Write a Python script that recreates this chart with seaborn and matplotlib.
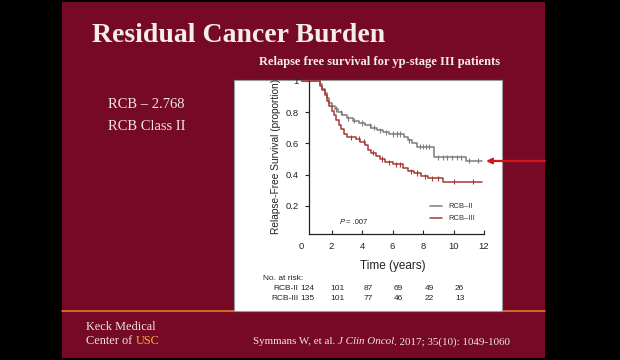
import numpy as np
import pandas as pd
import matplotlib
matplotlib.use("Agg")
import matplotlib.pyplot as plt
import seaborn as sns
from matplotlib.patches import Rectangle
from matplotlib.lines import Line2D
import matplotlib.transforms as mtransforms

sns.set_theme(style="white")

# Kaplan-Meier steps
rcb2_time = [0, 1.25, 1.4, 1.55, 1.7, 1.85, 2.0, 2.2, 2.45, 2.7, 3.0, 3.4, 3.8, 4.2,
             4.6, 5.0, 5.4, 5.8, 6.75, 7.0, 7.3, 7.6, 8.7, 10.85, 11.9]
rcb2_surv = [1.0, 0.98, 0.95, 0.92, 0.89, 0.86, 0.84, 0.82, 0.80, 0.78, 0.76, 0.745,
             0.73, 0.715, 0.70, 0.685, 0.67, 0.66, 0.64, 0.62, 0.60, 0.58, 0.51, 0.49, 0.49]
rcb3_time = [0, 1.25, 1.4, 1.55, 1.7, 1.85, 2.0, 2.15, 2.3, 2.5, 2.65, 2.8, 3.0, 3.6,
             3.9, 4.2, 4.4, 4.6, 4.9, 5.2, 5.5, 6.0, 6.7, 7.0, 7.4, 7.9, 8.3, 9.3, 11.9]
rcb3_surv = [1.0, 0.97, 0.94, 0.91, 0.87, 0.84, 0.81, 0.78, 0.75, 0.72, 0.69, 0.66,
             0.64, 0.63, 0.61, 0.59, 0.56, 0.54, 0.52, 0.50, 0.48, 0.465, 0.44, 0.42,
             0.41, 0.39, 0.375, 0.355, 0.355]
rcb2_censor = [2.3, 2.6, 3.1, 3.5, 4.0, 4.5, 4.8, 5.2, 5.6, 6.0, 6.3, 6.5, 7.1, 7.8,
               8.0, 8.2, 8.4, 9.0, 9.3, 9.6, 9.9, 10.2, 10.5, 11.0, 11.6]
rcb3_censor = [3.3, 3.8, 4.1, 4.7, 5.3, 5.8, 6.2, 6.5, 7.2, 7.6, 8.1, 8.6, 9.0,
               10.0, 11.3]

groups = ["RCB\u2013II", "RCB\u2013III"]
colors = ["#7d7d7d", "#a63a33"]

risk_times = [0, 2, 4, 6, 8, 10]
risk_rcb2 = [124, 101, 87, 69, 49, 26]
risk_rcb3 = [135, 101, 77, 46, 22, 13]


def step_at(times, surv, t):
    i = np.searchsorted(times, t, side="right") - 1
    return surv[i]


curves = pd.concat([
    pd.DataFrame({"time": rcb2_time, "surv": rcb2_surv, "group": groups[0]}),
    pd.DataFrame({"time": rcb3_time, "surv": rcb3_surv, "group": groups[1]}),
])
marks = pd.concat([
    pd.DataFrame({"time": rcb2_censor,
                  "surv": [step_at(rcb2_time, rcb2_surv, t) for t in rcb2_censor],
                  "group": groups[0]}),
    pd.DataFrame({"time": rcb3_censor,
                  "surv": [step_at(rcb3_time, rcb3_surv, t) for t in rcb3_censor],
                  "group": groups[1]}),
])

W, H = 620, 360
fig = plt.figure(figsize=(6.2, 3.6), dpi=100)
fig.patch.set_facecolor("black")


def box(x0, y0, x1, y1):
    return (x0 / W, 1 - y1 / H, (x1 - x0) / W, (y1 - y0) / H)


def fx(x):
    return x / W


def fy(y):
    return 1 - y / H


maroon = "#760a26"
l, b, w, h = box(62, 2, 545, 358)
fig.patches.append(Rectangle((l, b), w, h, transform=fig.transFigure,
                             facecolor=maroon, edgecolor="none", zorder=0))
# orange rule at the bottom
fig.lines.append(Line2D([fx(62), fx(545)], [fy(311), fy(311)], transform=fig.transFigure,
                        color="#e07a2a", lw=1.2, zorder=1))
# white inset panel
l, b, w, h = box(234, 80, 502, 311)
fig.patches.append(Rectangle((l, b), w, h, transform=fig.transFigure,
                             facecolor="white", edgecolor="#999999", lw=0.8, zorder=2))

serif = ["Liberation Serif", "DejaVu Serif"]
light = "#f0e4e4"
fig.text(fx(92), fy(36), "Residual Cancer Burden", color="#f4ede8", fontsize=20,
         fontweight="bold", family=serif, va="center", ha="left")
fig.text(fx(500), fy(62), "Relapse free survival for yp-stage III patients",
         color="#f4ede8", fontsize=9, fontweight="bold", family=serif,
         va="center", ha="right")
fig.text(fx(108), fy(104), "RCB \u2013 2.768", color=light, fontsize=10.5,
         family=serif, va="center")
fig.text(fx(108), fy(126), "RCB Class II", color=light, fontsize=10.5,
         family=serif, va="center")
fig.text(fx(86), fy(327), "Keck Medical", color=light, fontsize=8.8,
         family=serif, va="center")
c1 = fig.text(fx(86), fy(341), "Center of ", color=light, fontsize=8.8,
              family=serif, va="center")
fig.canvas.draw()
r = fig.canvas.get_renderer()
fig.text(c1.get_window_extent(r).x1 / W, fy(341), "USC", color="#f5b335",
         fontsize=8.8, family=serif, va="center")
cite = fig.text(fx(253), fy(342), "Symmans W, et al. ", color=light,
                fontsize=7.9, family=serif, va="center")
bb = cite.get_window_extent(r)
t2 = fig.text(bb.x1 / W, fy(342), "J Clin Oncol", color=light, fontsize=7.9,
              family=serif, style="italic", va="center")
bb = t2.get_window_extent(r)
fig.text(bb.x1 / W, fy(342), ". 2017; 35(10): 1049-1060", color=light,
         fontsize=7.9, family=serif, va="center")

# chart axes: x 0 at px 301, 15.25 px per year; y 0 at px 237, 156 px per unit
ax = fig.add_axes(box(301, 79.4, 301 + 12.1 * 15.25, 233.9), zorder=3)
ax.set_facecolor("none")
sns.lineplot(data=curves, x="time", y="surv", hue="group", palette=colors,
             estimator=None, sort=False, drawstyle="steps-post", lw=1.1, ax=ax)
sns.scatterplot(data=marks, x="time", y="surv", hue="group", palette=colors,
                marker="|", s=14, linewidth=0.8, legend=False, ax=ax)
ax.set_xlim(0, 12.1)
ax.set_ylim(0.02, 1.01)
for s in ["top", "right"]:
    ax.spines[s].set_visible(False)
ax.spines["left"].set_position(("data", 0.5))
ax.spines["left"].set_bounds(0.02, 1.0)
ax.spines["bottom"].set_bounds(0.5, 12)
for s in ["left", "bottom"]:
    ax.spines[s].set_color("#222222")
    ax.spines[s].set_linewidth(0.9)
ax.set_xticks(risk_times + [12])
ax.set_yticks([0.2, 0.4, 0.6, 0.8, 1.0])
ax.set_yticklabels(["0.2", "0.4", "0.6", "0.8", "1"])
ax.tick_params(axis="x", direction="in", length=3, width=0.8, labelsize=6.8,
               colors="#222222", pad=6, bottom=True)
ax.tick_params(axis="y", direction="out", length=3, width=0.8, labelsize=6.8,
               colors="#222222", pad=4, left=True)
ax.xaxis.get_major_ticks()[0].tick1line.set_visible(False)
sans = ["Liberation Sans", "DejaVu Sans"]
for lab in ax.get_xticklabels() + ax.get_yticklabels():
    lab.set_family(sans)
ax.set_xlabel("Time (years)", fontsize=8.5, family=sans, color="#222222", labelpad=6)
ax.set_ylabel("Relapse-Free Survival (proportion)", fontsize=7.3, family=sans,
              color="#222222", labelpad=3)
ax.text(2.55, 0.095, "P", fontsize=5.5, style="italic", family=sans, color="#222222",
        va="center")
ax.text(2.95, 0.095, "= .007", fontsize=5.5, family=sans, color="#222222", va="center")
leg = ax.legend(loc="lower right", bbox_to_anchor=(0.98, 0.03), frameon=False,
                fontsize=5.5, handlelength=1.6, labelspacing=0.6, title=None)
for t in leg.get_texts():
    t.set_family(sans)
    t.set_color("#333333")

# number at risk table
trans = mtransforms.blended_transform_factory(ax.transData, fig.transFigure)
fs = 6
fig.text(fx(263), fy(278), "No. at risk:", fontsize=fs, family=sans, color="#222222",
         va="center")
fig.text(fx(298), fy(289), "RCB-II", fontsize=fs, family=sans, color="#222222",
         va="center", ha="right")
fig.text(fx(298), fy(298), "RCB-III", fontsize=fs, family=sans, color="#222222",
         va="center", ha="right")
for t, n2, n3 in zip(risk_times, risk_rcb2, risk_rcb3):
    fig.text(t + 0.4, fy(289), str(n2), transform=trans, fontsize=fs, family=sans,
             color="#222222", va="center", ha="center")
    fig.text(t + 0.4, fy(298), str(n3), transform=trans, fontsize=fs, family=sans,
             color="#222222", va="center", ha="center")

# red arrow pointing at the RCB-II curve
ax2 = fig.add_axes((0, 0, 1, 1), zorder=4)
ax2.set_xlim(0, W)
ax2.set_ylim(H, 0)
ax2.axis("off")
ax2.annotate("", xy=(486, 161), xytext=(545, 161),
             arrowprops=dict(arrowstyle="-|>", color="#d2161a", lw=1.6,
                             mutation_scale=8, shrinkA=0, shrinkB=0))

fig.savefig("out.png", dpi=100, facecolor=fig.get_facecolor())
